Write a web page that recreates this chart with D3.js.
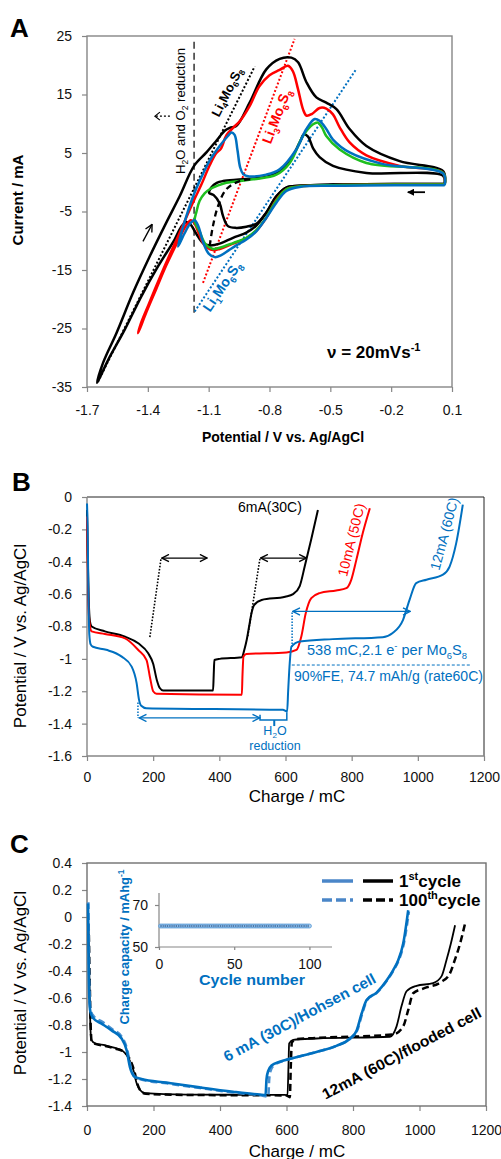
<!DOCTYPE html>
<html>
<head>
<meta charset="utf-8">
<script src="https://cdn.jsdelivr.net/npm/d3@7"></script>
<style>
  html, body { margin: 0; padding: 0; background: #fff; }
  svg { display: block; font-family: "Liberation Sans", Arial, sans-serif; }
</style>
</head>
<body>
<svg id="fig" width="501" height="1159"></svg>
<script>
// ---------- Panel A : cyclic voltammograms (V, mA) ----------
const aTicksX = [-1.7, -1.4, -1.1, -0.8, -0.5, -0.2, 0.1];
const aTicksY = [-35, -25, -15, -5, 5, 15, 25];

const cvOuter = [
  [0.064,-0.3],[-0.158,-0.3],[-0.487,-0.4],[-0.651,-0.6],[-0.717,-0.9],[-0.766,-2.4],[-0.816,-5.2],
  [-0.865,-7.4],[-0.914,-8.6],[-0.980,-9.5],[-1.046,-10.5],[-1.095,-10.8],[-1.128,-10.4],[-1.161,-8.8],
  [-1.190,-7.2],[-1.210,-6.8],[-1.235,-7.6],[-1.268,-9.8],[-1.350,-14.4],[-1.432,-19.5],[-1.514,-25.2],
  [-1.596,-30.4],[-1.650,-34.3],
  [-1.620,-30.8],[-1.555,-25.8],[-1.473,-18.9],[-1.391,-12.7],[-1.309,-6.9],[-1.243,-2.4],[-1.172,2.8],
  [-1.111,5.1],[-1.062,7.1],[-1.021,8.8],[-0.996,9.3],[-0.964,9.6],[-0.898,13.6],[-0.816,19.3],
  [-0.750,21.1],[-0.692,21.3],[-0.659,20.5],[-0.618,17.1],[-0.569,14.5],[-0.520,13.6],[-0.470,12.5],
  [-0.405,9.1],[-0.322,6.2],[-0.158,3.6],[0.056,1.9],[0.064,-0.3]
];
const cvRed = [
  [0.064,-0.4],[-0.158,-0.4],[-0.487,-0.5],[-0.651,-0.7],[-0.717,-1.2],[-0.766,-3.0],[-0.816,-6.1],
  [-0.865,-8.3],[-0.914,-9.6],[-0.980,-10.5],[-1.046,-11.4],[-1.079,-11.6],[-1.120,-10.8],[-1.150,-8.6],
  [-1.170,-7.0],[-1.188,-6.5],[-1.210,-7.3],[-1.259,-10.6],[-1.309,-14.2],[-1.358,-18.2],[-1.407,-22.2],
  [-1.448,-25.8],
  [-1.435,-24.2],[-1.395,-20.8],[-1.345,-16.6],[-1.295,-12.6],[-1.245,-8.8],[-1.205,-5.6],[-1.170,-2.9],
  [-1.136,-0.4],[-1.095,2.9],[-1.062,5.0],[-1.040,5.7],[-1.013,8.0],[-0.980,9.3],[-0.947,10.4],
  [-0.898,13.0],[-0.850,16.4],[-0.800,18.3],[-0.750,19.2],[-0.709,19.9],[-0.685,19.0],[-0.660,16.0],
  [-0.635,12.5],[-0.618,11.4],[-0.590,11.7],[-0.553,12.7],[-0.520,12.6],[-0.487,11.6],[-0.454,9.4],
  [-0.405,6.8],[-0.322,4.6],[-0.158,2.8],[0.056,1.6],[0.064,-0.4]
];
const cvBlue = [
  [0.064,-0.5],[-0.158,-0.5],[-0.487,-0.6],[-0.651,-0.8],[-0.717,-1.5],[-0.766,-3.5],[-0.816,-6.1],
  [-0.865,-8.4],[-0.914,-9.8],[-0.964,-10.8],[-1.000,-11.6],[-1.040,-12.5],[-1.070,-12.8],[-1.100,-12.2],
  [-1.128,-10.2],[-1.150,-7.6],[-1.169,-6.5],[-1.190,-7.0],[-1.220,-8.8],[-1.251,-11.0],
  [-1.236,-8.8],[-1.210,-5.8],[-1.185,-3.2],[-1.160,-1.0],[-1.130,1.3],[-1.095,3.7],[-1.046,6.2],
  [-1.005,7.9],[-0.988,8.5],[-0.972,8.1],[-0.958,5.5],[-0.945,2.6],[-0.930,1.4],[-0.900,1.0],
  [-0.816,1.3],[-0.750,2.2],[-0.668,5.6],[-0.618,9.1],[-0.577,10.8],[-0.553,10.5],[-0.520,9.1],
  [-0.487,7.3],[-0.405,5.1],[-0.240,3.1],[0.056,1.5],[0.064,-0.5]
];
const cvGreen = [
  [0.064,-0.4],[-0.158,-0.4],[-0.487,-0.5],[-0.651,-0.7],[-0.717,-1.2],[-0.766,-3.1],[-0.816,-6.0],
  [-0.865,-8.2],[-0.914,-9.5],[-0.980,-10.4],[-1.046,-11.2],[-1.079,-11.4],[-1.115,-10.6],[-1.145,-8.4],
  [-1.169,-6.7],
  [-1.160,-5.0],[-1.145,-3.2],[-1.120,-1.9],[-1.095,-1.2],[-1.050,-0.5],[-1.013,-0.1],[-0.881,0.5],
  [-0.766,1.3],[-0.700,3.3],[-0.635,7.9],[-0.585,9.9],[-0.561,10.2],[-0.540,9.3],[-0.520,7.9],
  [-0.454,5.6],[-0.322,3.3],[0.056,1.6],[0.064,-0.4]
];
const cvInner = [
  [0.064,-0.3],[-0.158,-0.3],[-0.487,-0.4],[-0.651,-0.6],[-0.717,-0.9],[-0.766,-2.4],[-0.816,-5.2],
  [-0.865,-7.1],[-0.914,-7.6],[-0.964,-7.8],[-1.005,-7.5],[-1.029,-5.8],[-1.046,-3.6],[-1.075,-2.2],
  [-1.098,-1.8],
  [-1.085,-0.8],[-1.060,-0.1],[-1.029,0.2],[-0.931,0.5],[-0.800,1.1],[-0.717,2.8],[-0.651,6.8],
  [-0.630,8.2],[-0.610,7.8],[-0.585,5.8],[-0.553,4.3],[-0.487,2.8],[-0.322,1.6],[0.056,1.1],[0.064,-0.3]
];
const cvDashed = [[-1.095,-10.9],[-1.079,-7.5],[-1.054,-4.1],[-1.013,-1.2],[-0.947,0.2],[-0.881,0.5]];

const li4Line = [[-1.646,-34.1],[-0.873,19.8]];
const li3Line = [[-1.128,-17.2],[-0.676,24.5]];
const li1Line = [[-1.169,-22.1],[-0.375,19.2]];
const h2oLine = [[-1.172,24.0],[-1.172,-22.4]];

// ---------- Panel B : discharge/charge at three rates (mC, V) ----------
const bTicksX = [0, 200, 400, 600, 800, 1000, 1200];
const bTicksY = [0, -0.2, -0.4, -0.6, -0.8, -1, -1.2, -1.4, -1.6];

const b6mA = [
  [0,-0.08],[2,-0.35],[5,-0.62],[9,-0.77],[14,-0.80],[54,-0.83],[115,-0.863],[155,-0.904],[185,-0.966],
  [200,-1.03],[211,-1.13],[220,-1.18],[230,-1.195],[381,-1.196],[383,-1.10],[385,-1.007],[401,-1.0],
  [468,-0.99],[476,-0.94],[483,-0.88],[490,-0.80],[497,-0.72],[505,-0.668],[528,-0.636],[599,-0.616],
  [623,-0.60],[643,-0.55],[658,-0.43],[678,-0.26],[698,-0.08]
];
const b10mA = [
  [0,-0.12],[2,-0.40],[5,-0.70],[9,-0.80],[14,-0.83],[54,-0.846],[115,-0.873],[155,-0.945],[180,-1.007],
  [190,-1.11],[200,-1.20],[210,-1.215],[468,-1.222],[470,-1.10],[473,-0.985],[482,-0.97],[603,-0.96],
  [633,-0.945],[648,-0.86],[661,-0.72],[678,-0.625],[703,-0.594],[753,-0.577],[784,-0.563],[799,-0.51],
  [814,-0.39],[834,-0.22],[855,-0.07]
];
const b12mA = [
  [0,-0.04],[2,-0.20],[4,-0.55],[7,-0.85],[11,-0.91],[18,-0.925],[58,-0.944],[105,-0.986],[135,-1.048],
  [150,-1.15],[157,-1.25],[164,-1.29],[179,-1.305],[592,-1.315],[605,-1.325],[608,-1.20],[612,-1.05],
  [618,-0.925],[643,-0.893],[743,-0.878],[894,-0.866],[924,-0.84],[955,-0.76],[975,-0.635],[995,-0.532],
  [1026,-0.511],[1076,-0.48],[1096,-0.43],[1116,-0.285],[1136,-0.047]
];

// ---------- Panel C : 1st and 100th cycle (mC, V) ----------
const cTicksX = [0, 200, 400, 600, 800, 1000, 1200];
const cTicksY = [0.4, 0.2, 0, -0.2, -0.4, -0.6, -0.8, -1, -1.2, -1.4];

const cHohsen1 = [
  [3,0.10],[4,-0.10],[5,-0.35],[7,-0.60],[10,-0.70],[19,-0.75],[44,-0.79],[74,-0.84],[104,-0.90],
  [119,-0.985],[129,-1.11],[144,-1.185],[164,-1.20],[239,-1.227],[339,-1.262],[439,-1.294],[520,-1.315],
  [537,-1.318],[540,-1.20],[545,-1.14],[555,-1.10],[580,-1.072],[620,-1.045],[690,-1.0],[750,-0.955],
  [791,-0.90],[811,-0.84],[826,-0.715],[841,-0.615],[871,-0.56],[901,-0.47],[921,-0.393],[936,-0.32],
  [951,-0.197],[966,0.05]
];
const cHohsen100 = [
  [4,0.11],[5,-0.10],[6,-0.35],[8,-0.60],[11,-0.69],[20,-0.735],[45,-0.775],[75,-0.83],[105,-0.89],
  [121,-0.985],[131,-1.11],[146,-1.19],[166,-1.205],[240,-1.232],[340,-1.267],[440,-1.30],[525,-1.322],
  [545,-1.33],[548,-1.20],[552,-1.14],[561,-1.10],[585,-1.07],[622,-1.043],[692,-0.998],[752,-0.953],
  [793,-0.898],[813,-0.838],[828,-0.713],[843,-0.613],[873,-0.558],[903,-0.468],[923,-0.391],[938,-0.318],
  [953,-0.195],[968,0.04]
];
const cFlooded1 = [
  [4,-0.05],[7,-0.45],[10,-0.80],[13,-0.91],[24,-0.935],[54,-0.95],[84,-0.97],[109,-0.995],[124,-1.04],
  [139,-1.13],[149,-1.23],[159,-1.28],[174,-1.305],[300,-1.315],[595,-1.318],[603,-1.32],[606,-1.10],
  [608,-0.936],[620,-0.91],[690,-0.90],[911,-0.887],[931,-0.81],[946,-0.66],[961,-0.55],[991,-0.51],
  [1041,-0.49],[1066,-0.44],[1081,-0.32],[1094,-0.20],[1107,-0.061]
];
const cFlooded100 = [
  [5,-0.05],[8,-0.45],[11,-0.80],[14,-0.92],[25,-0.94],[55,-0.955],[85,-0.975],[112,-1.0],[128,-1.05],
  [142,-1.14],[152,-1.24],[162,-1.29],[177,-1.31],[300,-1.318],[600,-1.322],[610,-1.335],[613,-1.10],
  [616,-0.93],[630,-0.905],[700,-0.895],[921,-0.87],[951,-0.81],[966,-0.69],[981,-0.565],[1011,-0.53],
  [1066,-0.48],[1091,-0.42],[1106,-0.32],[1122,-0.197],[1137,-0.049]
];

// inset: charge capacity per cycle (mAh/g)
const insetCycles = [
  1,2,3,4,5,6,7,8,9,10,11,12,13,14,15,16,17,18,19,20,21,22,23,24,25,26,27,28,29,30,
  31,32,33,34,35,36,37,38,39,40,41,42,43,44,45,46,47,48,49,50,51,52,53,54,55,56,57,58,59,60,
  61,62,63,64,65,66,67,68,69,70,71,72,73,74,75,76,77,78,79,80,81,82,83,84,85,86,87,88,89,90,
  91,92,93,94,95,96,97,98,99,100
];
const insetCapacity = [
  60,60,60,60,60,60,60,60,60,60,60,60,60,60,60,60,60,60,60,60,60,60,60,60,60,60,60,60,60,60,
  60,60,60,60,60,60,60,60,60,60,60,60,60,60,60,60,60,60,60,60,60,60,60,60,60,60,60,60,60,60,
  60,60,60,60,60,60,60,60,60,60,60,60,60,60,60,60,60,60,60,60,60,60,60,60,60,60,60,60,60,60,
  60,60,60,60,60,60,60,60,60,60
];
const insetTicksX = [0, 50, 100];
const insetTicksY = [50, 70];

// ---------------------------------------------------------------
const svg = d3.select("#fig");
const RED = "#ff0000", BLUE = "#0070c0", GREEN = "#1fbf1f", GRAY = "#868686";

const defs = svg.append("defs");
function marker(id, color, filled) {
  const m = defs.append("marker").attr("id", id)
    .attr("viewBox", "0 0 10 10").attr("refX", 9).attr("refY", 5)
    .attr("markerWidth", filled ? 7 : 9).attr("markerHeight", filled ? 7 : 9)
    .attr("markerUnits", "userSpaceOnUse").attr("orient", "auto-start-reverse");
  if (filled) m.append("path").attr("d", "M0,0 L10,5 L0,10 z").attr("fill", color);
  else m.append("path").attr("d", "M1,1 L9,5 L1,9").attr("fill", "none")
        .attr("stroke", color).attr("stroke-width", 1.5);
}
marker("arrK", "#000", true);
marker("openK", "#000", false);
marker("openB", BLUE, false);

function rich(sel, parts, size) {
  parts.forEach(p => {
    const [s, k] = Array.isArray(p) ? p : [p, null];
    const t = sel.append("tspan").text(s);
    if (k === "sub") t.attr("font-size", size * 0.65).attr("baseline-shift", -size * 0.25);
    if (k === "sup") t.attr("font-size", size * 0.65).attr("baseline-shift", size * 0.4);
  });
  return sel;
}
function label(g, x, y, parts, o) {
  const t = g.append("text").attr("x", x).attr("y", y)
    .attr("font-size", o.size).attr("fill", o.color || "#000")
    .attr("font-weight", o.bold ? "bold" : null)
    .attr("text-anchor", o.anchor || "start");
  if (o.rotate !== undefined)
    t.attr("x", 0).attr("y", 0).attr("transform", `translate(${x},${y}) rotate(${o.rotate})`);
  if (o.len) t.attr("textLength", o.len).attr("lengthAdjust", "spacingAndGlyphs");
  return rich(t, parts, o.size);
}
const fmt = d => String(d);

function styleAxis(g, color) {
  g.select(".domain").remove();
  g.selectAll(".tick line").attr("stroke", color || GRAY).attr("stroke-width", 1.2);
  g.selectAll(".tick text").attr("font-size", 14).attr("fill", "#111")
    .attr("font-family", "Liberation Sans, Arial, sans-serif");
}

// =================== Panel A ===================
const xA = d3.scaleLinear().domain([-1.7, 0.1]).range([87, 452]);
const yA = d3.scaleLinear().domain([-35, 25]).range([387, 36]);
const gA = svg.append("g");
const lineA = d3.line().x(d => xA(d[0])).y(d => yA(d[1])).curve(d3.curveCatmullRom.alpha(0.5));
const straightA = d3.line().x(d => xA(d[0])).y(d => yA(d[1]));

gA.append("g").attr("transform", "translate(0,387)")
  .call(d3.axisBottom(xA).tickValues(aTicksX).tickSize(5).tickPadding(13).tickFormat(fmt))
  .call(styleAxis);
gA.append("g").attr("transform", "translate(87,0)")
  .call(d3.axisLeft(yA).tickValues(aTicksY).tickSize(5).tickPadding(10).tickFormat(fmt))
  .call(styleAxis);
gA.append("rect").attr("x", 87).attr("y", 36).attr("width", 365).attr("height", 351)
  .attr("fill", "none").attr("stroke", GRAY).attr("stroke-width", 1.4);

// reference lines
gA.append("path").attr("d", straightA(h2oLine)).attr("stroke", "#000").attr("stroke-width", 1.2)
  .attr("stroke-dasharray", "7,4").attr("fill", "none");
[[li4Line, "#000"], [li3Line, RED], [li1Line, BLUE]].forEach(([pts, c]) => {
  gA.append("path").attr("d", straightA(pts)).attr("stroke", c).attr("stroke-width", 2)
    .attr("stroke-dasharray", "2,2").attr("fill", "none");
});

// curves
[[cvOuter, "#000"], [cvInner, "#000"], [cvRed, RED], [cvGreen, GREEN], [cvBlue, BLUE]].forEach(([pts, c]) => {
  gA.append("path").attr("d", lineA(pts)).attr("stroke", c).attr("stroke-width", 2.5)
    .attr("fill", "none").attr("stroke-linejoin", "round");
});
gA.append("path").attr("d", lineA(cvDashed)).attr("stroke", "#000").attr("stroke-width", 2.3)
  .attr("stroke-dasharray", "6,4").attr("fill", "none");

// arrows
gA.append("line").attr("x1", xA(-0.033)).attr("y1", yA(-1.7)).attr("x2", xA(-0.118)).attr("y2", yA(-1.7))
  .attr("stroke", "#000").attr("stroke-width", 1.8).attr("marker-end", "url(#arrK)");
gA.append("line").attr("x1", xA(-1.424)).attr("y1", yA(-10.1)).attr("x2", xA(-1.379)).attr("y2", yA(-7.2))
  .attr("stroke", "#000").attr("stroke-width", 1.3).attr("marker-end", "url(#openK)");
// dashed arrow pointing left (H2O / O2 reduction region)
const ax0 = xA(-1.291), ax1 = xA(-1.365), ay = yA(11.3);
gA.append("line").attr("x1", ax0).attr("y1", ay).attr("x2", ax1 + 1).attr("y2", ay)
  .attr("stroke", "#000").attr("stroke-width", 1.2).attr("stroke-dasharray", "2,2");
gA.append("path").attr("d", `M${ax1 + 5},${ay - 4} L${ax1},${ay} L${ax1 + 5},${ay + 4}`)
  .attr("stroke", "#000").attr("stroke-width", 1.2).attr("fill", "none");

// labels
label(gA, 10, 37, ["A"], { size: 26, bold: true });
label(gA, 185, 111, ["H", ["2", "sub"], "O and O", ["2", "sub"], " reduction"], { size: 13, rotate: -90, anchor: "middle", len: 126 });
label(gA, 231, 94, ["Li", ["4", "sub"], "Mo", ["6", "sub"], "S", ["8", "sub"]], { size: 13, bold: true, rotate: -63, anchor: "middle" });
label(gA, 281, 118, ["Li", ["3", "sub"], "Mo", ["6", "sub"], "S", ["8", "sub"]], { size: 14, bold: true, color: RED, rotate: -69, anchor: "middle" });
label(gA, 226, 289, ["Li", ["1", "sub"], "Mo", ["6", "sub"], "S", ["8", "sub"]], { size: 14, bold: true, color: BLUE, rotate: -56, anchor: "middle" });
label(gA, 327, 358, ["ν = 20mVs", ["-1", "sup"]], { size: 17, bold: true });
label(gA, 23, 200, ["Current / mA"], { size: 15, bold: true, rotate: -90, anchor: "middle" });
label(gA, 283, 442, ["Potential / V vs. Ag/AgCl"], { size: 14, bold: true, anchor: "middle" });

// =================== Panel B ===================
const xB = d3.scaleLinear().domain([0, 1200]).range([87, 484]);
const yB = d3.scaleLinear().domain([-1.6, 0]).range([756, 497]);
const gB = svg.append("g");
const lineB = d3.line().x(d => xB(d[0])).y(d => yB(d[1])).curve(d3.curveMonotoneX);
const straightB = d3.line().x(d => xB(d[0])).y(d => yB(d[1]));

gB.append("g").attr("transform", "translate(0,756)")
  .call(d3.axisBottom(xB).tickValues(bTicksX).tickSize(5).tickPadding(11).tickFormat(fmt))
  .call(styleAxis);
gB.append("g").attr("transform", "translate(87,0)")
  .call(d3.axisLeft(yB).tickValues(bTicksY).tickSize(5).tickPadding(10).tickFormat(fmt))
  .call(styleAxis);
gB.append("path").attr("d", "M87,497 H484 V756").attr("fill", "none").attr("stroke", "#222").attr("stroke-width", 1);
gB.append("path").attr("d", "M87,497 V756 H484").attr("fill", "none").attr("stroke", GRAY).attr("stroke-width", 1.4);

[[b6mA, "#000"], [b10mA, RED], [b12mA, BLUE]].forEach(([pts, c]) => {
  gB.append("path").attr("d", lineB(pts)).attr("stroke", c).attr("stroke-width", 2)
    .attr("fill", "none").attr("stroke-linejoin", "round");
});

// annotations B
[[[190,-0.865],[224,-0.377]], [[486,-0.86],[523,-0.377]]].forEach(pts => {
  gB.append("path").attr("d", straightB(pts)).attr("stroke", "#000").attr("stroke-width", 1.6)
    .attr("stroke-dasharray", "1.6,1.6").attr("fill", "none");
});
[[[154,-1.27],[154,-1.365]], [[620,-0.926],[620,-0.707]]].forEach(pts => {
  gB.append("path").attr("d", straightB(pts)).attr("stroke", BLUE).attr("stroke-width", 1.5)
    .attr("stroke-dasharray", "1.5,1.5").attr("fill", "none");
});
function dblArrow(g, p0, p1, color, mk) {
  g.append("line").attr("x1", xB(p0[0])).attr("y1", yB(p0[1])).attr("x2", xB(p1[0])).attr("y2", yB(p1[1]))
    .attr("stroke", color).attr("stroke-width", 1.2)
    .attr("marker-start", `url(#${mk})`).attr("marker-end", `url(#${mk})`);
}
dblArrow(gB, [226,-0.377], [363,-0.377], "#000", "openK");
dblArrow(gB, [525,-0.377], [663,-0.377], "#000", "openK");
dblArrow(gB, [158,-1.365], [522,-1.365], BLUE, "openB");
dblArrow(gB, [622,-0.707], [977,-0.707], BLUE, "openB");
gB.append("path").attr("d", straightB([[619,-1.038],[1158,-1.038]])).attr("stroke", BLUE)
  .attr("stroke-width", 1).attr("stroke-dasharray", "3,2").attr("fill", "none");
gB.append("path").attr("d", straightB([[523,-1.345],[523,-1.378],[604,-1.378],[604,-1.33]]))
  .attr("stroke", BLUE).attr("stroke-width", 1.5).attr("fill", "none");
gB.append("path").attr("d", straightB([[566,-1.378],[566,-1.415]]))
  .attr("stroke", BLUE).attr("stroke-width", 2).attr("fill", "none");

label(gB, 12, 491, ["B"], { size: 26, bold: true });
label(gB, 238, 512, ["6mA(30C)"], { size: 14 });
label(gB, 356, 541, ["10mA (50C)"], { size: 14, color: RED, rotate: -76, anchor: "middle" });
label(gB, 449, 535, ["12mA (60C)"], { size: 14, color: BLUE, rotate: -75, anchor: "middle" });
label(gB, 307, 655, ["538 mC,2.1 e", ["-", "sup"], " per Mo", ["6", "sub"], "S", ["8", "sub"]], { size: 14, color: BLUE, len: 160 });
label(gB, 294, 681, ["90%FE, 74.7 mAh/g (rate60C)"], { size: 14, color: BLUE, len: 189 });
label(gB, 275, 735, ["H", ["2", "sub"], "O"], { size: 12.5, color: BLUE, anchor: "middle" });
label(gB, 275, 750, ["reduction"], { size: 12.5, color: BLUE, anchor: "middle" });
label(gB, 26, 636, ["Potential / V vs. Ag/AgCl"], { size: 17, rotate: -90, anchor: "middle" });
label(gB, 297, 802, ["Charge / mC"], { size: 17, anchor: "middle" });

// =================== Panel C ===================
const xC = d3.scaleLinear().domain([0, 1200]).range([87, 486]);
const yC = d3.scaleLinear().domain([-1.4, 0.4]).range([1106, 863]);
const gC = svg.append("g");
const lineC = d3.line().x(d => xC(d[0])).y(d => yC(d[1])).curve(d3.curveMonotoneX);

gC.append("g").attr("transform", "translate(0,1106)")
  .call(d3.axisBottom(xC).tickValues(cTicksX).tickSize(5).tickPadding(14).tickFormat(fmt))
  .call(styleAxis);
gC.append("g").attr("transform", "translate(87,0)")
  .call(d3.axisLeft(yC).tickValues(cTicksY).tickSize(5).tickPadding(10).tickFormat(fmt))
  .call(styleAxis);
gC.append("rect").attr("x", 87).attr("y", 863).attr("width", 399).attr("height", 243)
  .attr("fill", "none").attr("stroke", "#707070").attr("stroke-width", 1.4);

gC.append("path").attr("d", lineC(cFlooded100)).attr("stroke", "#000").attr("stroke-width", 2.5)
  .attr("stroke-dasharray", "7,4").attr("fill", "none");
gC.append("path").attr("d", lineC(cFlooded1)).attr("stroke", "#000").attr("stroke-width", 1.8).attr("fill", "none");
gC.append("path").attr("d", lineC(cHohsen100)).attr("stroke", "#4a90d0").attr("stroke-width", 2.6)
  .attr("stroke-dasharray", "7,4").attr("fill", "none");
gC.append("path").attr("d", lineC(cHohsen1)).attr("stroke", BLUE).attr("stroke-width", 2.6).attr("fill", "none");

// inset
const xI = d3.scaleLinear().domain([0, 115]).range([159, 332]);
const yI = d3.scaleLinear().domain([50, 70]).range([947, 905]);
const gI = gC.append("g");
gI.append("g").attr("transform", "translate(0,947)")
  .call(d3.axisBottom(xI).tickValues(insetTicksX).tickSize(3).tickPadding(9).tickFormat(fmt))
  .call(styleAxis);
gI.append("g").attr("transform", "translate(159,0)")
  .call(d3.axisLeft(yI).tickValues(insetTicksY).tickSize(4).tickPadding(7).tickFormat(fmt))
  .call(styleAxis);
gI.append("path").attr("d", "M159,893 V947 H332").attr("fill", "none").attr("stroke", GRAY).attr("stroke-width", 1.2);
const capPts = insetCycles.map((c, i) => [c, insetCapacity[i]]);
gI.selectAll("circle").data(capPts).join("circle")
  .attr("cx", d => xI(d[0])).attr("cy", d => yI(d[1])).attr("r", 2)
  .attr("fill", "#a9cdee").attr("stroke", "#5b9bd5").attr("stroke-width", 0.8);
gI.append("path").attr("d", d3.line().x(d => xI(d[0])).y(d => yI(d[1]))(capPts))
  .attr("stroke", "#1f3864").attr("stroke-width", 1).attr("stroke-dasharray", "1,1.2").attr("fill", "none");
label(gI, 252, 985, ["Cycle number"], { size: 15, bold: true, color: BLUE, anchor: "middle", len: 106 });
label(gI, 129, 947, ["Charge capacity / mAhg", ["-1", "sup"]], { size: 13, bold: true, color: BLUE, rotate: -90, anchor: "middle", len: 155 });

// legend
const legRows = [[881, null, "1", "st", "cycle"], [900, "7,4", "100", "th", "cycle"]];
legRows.forEach(([y, dash, n, sup, word]) => {
  gC.append("line").attr("x1", 322).attr("x2", 353).attr("y1", y).attr("y2", y)
    .attr("stroke", "#4a86c8").attr("stroke-width", 3.5).attr("stroke-dasharray", dash ? "10,4" : null);
  gC.append("line").attr("x1", 363).attr("x2", 393).attr("y1", y).attr("y2", y)
    .attr("stroke", "#000").attr("stroke-width", 3.5).attr("stroke-dasharray", dash ? "9,4" : null);
  label(gC, 399, y + 6, [n, [sup, "sup"], word], { size: 17, bold: true });
});

label(gC, 302, 1022, ["6 mA (30C)/Hohsen cell"], { size: 15, bold: true, color: BLUE, rotate: -28, anchor: "middle", len: 170 });
label(gC, 404, 1058, ["12mA (60C)/flooded cell"], { size: 15, bold: true, rotate: -28, anchor: "middle", len: 178 });
label(gC, 10, 853, ["C"], { size: 26, bold: true });
label(gC, 26, 983, ["Potential / V vs. Ag/AgCl"], { size: 17, rotate: -90, anchor: "middle" });
label(gC, 297, 1157, ["Charge / mC"], { size: 17, anchor: "middle" });
</script>
</body>
</html>
